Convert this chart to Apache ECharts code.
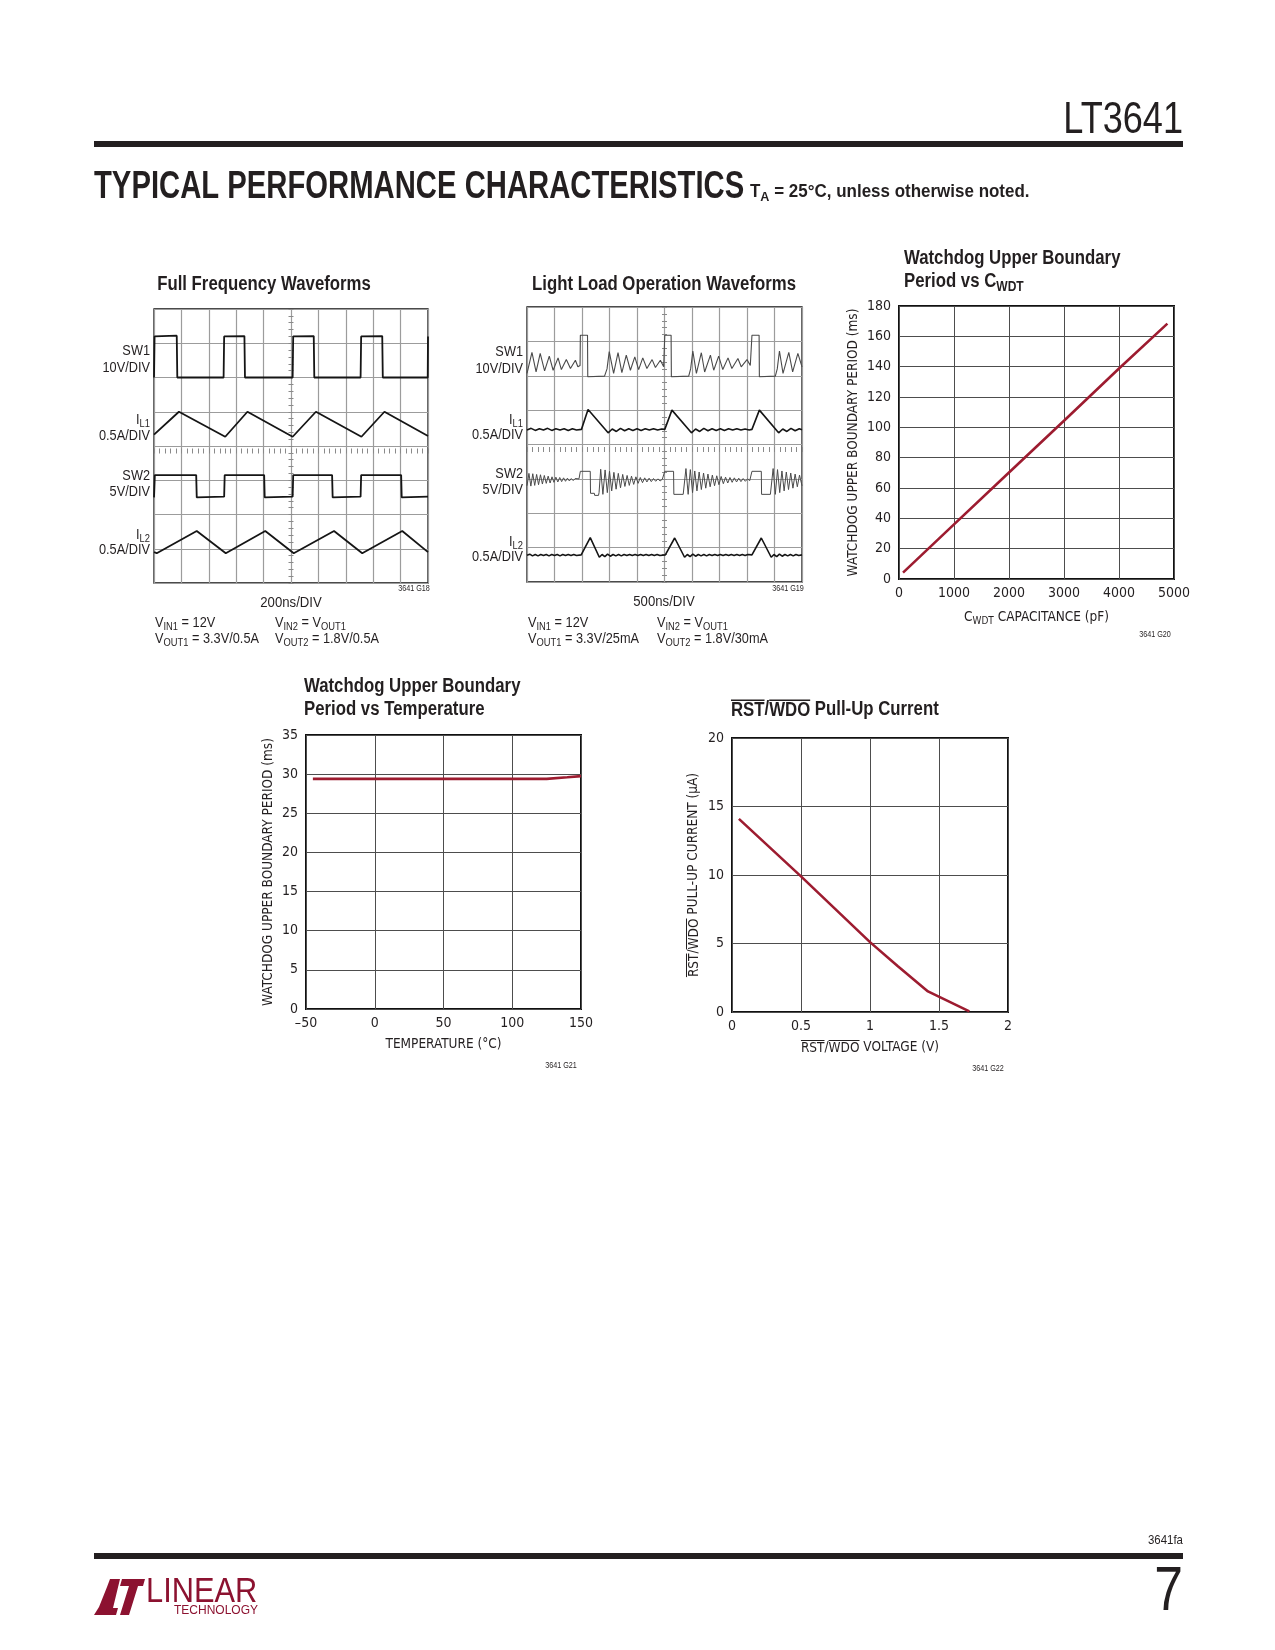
<!DOCTYPE html>
<html><head><meta charset="utf-8">
<script src="https://cdn.jsdelivr.net/npm/echarts@6/dist/echarts.min.js"></script>
<style>html,body{margin:0;padding:0;background:#fff}#c{width:1275px;height:1650px}</style>
</head><body><div id="c"></div>
<script>
// ---------- Scope traces (time in divisions, value in divisions) ----------
// Full Frequency Waveforms (200ns/DIV)
const ffSW1 = [0,6.0, 0.02,7.2, 0.83,7.22, 0.85,6.0, 2.54,6.0, 2.56,7.2, 3.3,7.21, 3.32,6.0, 5.06,6.0, 5.08,7.2, 5.83,7.21, 5.85,6.0, 7.54,6.0, 7.56,7.2, 8.33,7.21, 8.35,6.0, 9.99,6.0, 10,7.2];
const ffIL1 = [0,4.33, 0.91,5.0, 2.6,4.27, 3.41,5.0, 5.06,4.27, 5.91,5.0, 7.57,4.27, 8.41,5.0, 10,4.29];
const ffSW2 = [0,2.5, 0.03,3.15, 1.54,3.15, 1.56,2.5, 2.56,2.52, 2.58,3.15, 4.02,3.15, 4.04,2.5, 5.06,2.52, 5.08,3.15, 6.5,3.15, 6.52,2.5, 7.54,2.52, 7.56,3.15, 9.02,3.15, 9.04,2.5, 10,2.52];
const ffIL2 = [0,0.9, 0.1,0.87, 1.56,1.52, 2.62,0.87, 4.06,1.52, 5.1,0.87, 6.57,1.52, 7.6,0.87, 9.06,1.52, 10,0.9];

// Light Load Operation Waveforms (500ns/DIV)
const llSW1 = [0,6.07, 0.18,6.68, 0.33,6.11, 0.48,6.65, 0.64,6.14, 0.81,6.57, 0.95,6.16, 1.13,6.52, 1.25,6.18, 1.43,6.47, 1.58,6.21, 1.76,6.45, 1.85,6.26, 1.93,6.3,
  1.94,7.18, 2.2,7.18, 2.21,5.97, 2.82,5.99, 2.91,6.2, 2.99,6.7, 3.15,6.07, 3.31,6.67, 3.45,6.09, 3.61,6.6, 3.76,6.16, 3.92,6.55, 4.06,6.18, 4.21,6.52, 4.36,6.21, 4.55,6.47, 4.67,6.24, 4.85,6.45, 4.97,6.26, 5.0,6.3,
  5.01,7.18, 5.24,7.18, 5.25,5.97, 5.88,5.99, 5.95,6.2, 6.03,6.72, 6.16,6.07, 6.34,6.67, 6.46,6.11, 6.67,6.6, 6.79,6.16, 6.97,6.57, 7.12,6.18, 7.31,6.52, 7.45,6.21, 7.67,6.5, 7.79,6.26, 8.0,6.47, 8.12,6.3, 8.17,6.35,
  8.18,7.18, 8.44,7.18, 8.45,5.97, 9.03,5.99, 9.1,6.2, 9.18,6.72, 9.31,6.07, 9.52,6.68, 9.66,6.11, 9.85,6.65, 10,6.26];
const llIL1 = [0,4.42, 0.15,4.47, 0.3,4.41, 0.45,4.46, 0.6,4.42, 0.75,4.47, 0.9,4.41, 1.05,4.46, 1.2,4.42, 1.35,4.46, 1.5,4.41, 1.65,4.46, 1.8,4.42, 1.98,4.44,
  2.22,5.02, 2.95,4.34, 3.1,4.45, 3.25,4.38, 3.4,4.47, 3.55,4.4, 3.7,4.46, 3.85,4.41, 4.0,4.46, 4.15,4.41, 4.3,4.46, 4.45,4.42, 4.6,4.46, 4.75,4.42, 4.9,4.45, 5.01,4.44,
  5.27,5.0, 5.98,4.34, 6.13,4.45, 6.28,4.38, 6.43,4.47, 6.58,4.4, 6.73,4.46, 6.88,4.41, 7.03,4.46, 7.18,4.41, 7.33,4.46, 7.48,4.42, 7.63,4.46, 7.78,4.42, 7.93,4.45, 8.08,4.42, 8.18,4.44,
  8.45,5.0, 9.15,4.34, 9.3,4.45, 9.45,4.38, 9.6,4.47, 9.75,4.4, 9.9,4.46, 10,4.43];
const llSW2 = [0,2.8, 0.07,3.16, 0.14,2.79, 0.21,3.15, 0.28,2.81, 0.35,3.13, 0.42,2.83, 0.49,3.12, 0.56,2.85, 0.63,3.1, 0.7,2.87, 0.77,3.08, 0.84,2.88, 0.91,3.06, 0.98,2.9, 1.05,3.05, 1.12,2.91, 1.19,3.04, 1.26,2.92, 1.33,3.03, 1.4,2.93, 1.47,3.02, 1.54,2.94, 1.61,3.01, 1.68,2.95, 1.75,3.01, 1.82,2.96, 1.89,3.0, 1.93,2.98,
  1.94,3.22, 2.3,3.22, 2.31,2.58, 2.45,2.58, 2.46,2.52, 2.6,2.52,
  2.62,2.6, 2.68,3.28, 2.76,2.55, 2.84,3.26, 2.92,2.6, 3.0,3.22, 3.08,2.65, 3.16,3.19, 3.24,2.7, 3.32,3.16, 3.4,2.74, 3.48,3.13, 3.56,2.78, 3.64,3.1, 3.72,2.81, 3.8,3.08, 3.88,2.84, 3.96,3.06, 4.04,2.87, 4.12,3.04, 4.2,2.89, 4.28,3.03, 4.36,2.91, 4.44,3.02, 4.52,2.92, 4.6,3.01, 4.68,2.93, 4.76,3.0, 4.84,2.94, 4.92,2.99, 4.98,2.96,
  5.0,2.97, 5.01,3.22, 5.33,3.22, 5.34,2.55, 5.68,2.55,
  5.72,2.6, 5.78,3.3, 5.86,2.55, 5.94,3.27, 6.02,2.6, 6.1,3.23, 6.18,2.65, 6.26,3.2, 6.34,2.69, 6.42,3.17, 6.5,2.73, 6.58,3.14, 6.66,2.77, 6.74,3.11, 6.82,2.8, 6.9,3.09, 6.98,2.83, 7.06,3.07, 7.14,2.86, 7.22,3.05, 7.3,2.88, 7.38,3.04, 7.46,2.9, 7.54,3.03, 7.62,2.91, 7.7,3.02, 7.78,2.92, 7.86,3.01, 7.94,2.93, 8.02,3.0, 8.1,2.95, 8.17,2.97,
  8.18,3.22, 8.52,3.22, 8.53,2.55, 8.85,2.55,
  8.89,2.6, 8.95,3.3, 9.03,2.55, 9.11,3.27, 9.19,2.6, 9.27,3.23, 9.35,2.65, 9.43,3.2, 9.51,2.69, 9.59,3.17, 9.67,2.73, 9.75,3.14, 9.83,2.77, 9.91,3.11, 10,2.8];
const llIL2 = [0,0.78, 0.1,0.81, 0.2,0.76, 0.3,0.8, 0.4,0.76, 0.5,0.8, 0.6,0.77, 0.7,0.8, 0.8,0.76, 0.9,0.8, 1.0,0.77, 1.1,0.8, 1.2,0.76, 1.3,0.8, 1.4,0.77, 1.5,0.8, 1.6,0.77, 1.7,0.8, 1.8,0.77, 1.97,0.79,
  2.3,1.29, 2.63,0.72, 2.73,0.8, 2.83,0.74, 2.93,0.81, 3.03,0.75, 3.13,0.8, 3.23,0.76, 3.33,0.8, 3.43,0.76, 3.53,0.8, 3.63,0.77, 3.73,0.8, 3.83,0.77, 3.93,0.8, 4.03,0.77, 4.13,0.8, 4.23,0.77, 4.33,0.8, 4.43,0.77, 4.53,0.8, 4.63,0.77, 4.73,0.8, 4.83,0.77, 5.03,0.79,
  5.37,1.28, 5.73,0.72, 5.83,0.8, 5.93,0.74, 6.03,0.81, 6.13,0.75, 6.23,0.8, 6.33,0.76, 6.43,0.8, 6.53,0.76, 6.63,0.8, 6.73,0.77, 6.83,0.8, 6.93,0.77, 7.03,0.8, 7.13,0.77, 7.23,0.8, 7.33,0.77, 7.43,0.8, 7.53,0.77, 7.63,0.8, 7.73,0.77, 7.83,0.8, 7.93,0.77, 8.03,0.8, 8.18,0.79,
  8.52,1.28, 8.88,0.72, 8.98,0.8, 9.08,0.74, 9.18,0.81, 9.28,0.75, 9.38,0.8, 9.48,0.76, 9.58,0.8, 9.68,0.76, 9.78,0.8, 9.88,0.77, 10,0.79];

// ---------- Measured curves ----------
const cwdtX = [73, 1000, 2000, 3000, 4000, 4880];          // pF
const cwdtY = [4.2, 36.0, 70.2, 104.3, 138.8, 168.4];       // ms
const tempX = [-45, 0, 50, 100, 125, 140, 150];             // °C
const tempY = [29.4, 29.4, 29.4, 29.4, 29.4, 29.6, 29.75];  // ms
const pullX = [0.05, 0.5, 1.0, 1.2, 1.42, 1.72];            // V
const pullY = [14.1, 9.9, 5.1, 3.35, 1.5, 0.05];            // µA

// ---------- Tick values ----------
const scopeXDiv = [0, 10];  const scopeYDiv = [0, 8];
const cwdtXTicks = [0, 1000, 2000, 3000, 4000, 5000];
const cwdtYTicks = [0, 20, 40, 60, 80, 100, 120, 140, 160, 180];
const tempXTicks = [-50, 0, 50, 100, 150];
const tempYTicks = [0, 5, 10, 15, 20, 25, 30, 35];
const pullXTicks = [0, 0.5, 1, 1.5, 2];
const pullYTicks = [0, 5, 10, 15, 20];

// ---------- helpers ----------
const AXFONT = "'DejaVu Sans Condensed','Liberation Sans',sans-serif";
const GFONT = "'Liberation Sans','Arial',sans-serif";
const INK = '#231f20';
const RED = '#9d1c30';
const LOGO = '#8c1230';
const pairs = a => { const r = []; for (let i = 0; i < a.length; i += 2) r.push([a[i], a[i + 1]]); return r; };
const zip = (x, y) => x.map((v, i) => [v, y[i]]);
const OVL = { type: 'linear', x: 0, y: 0, x2: 0, y2: 1, colorStops: [
  { offset: 0, color: INK }, { offset: 0.08, color: INK }, { offset: 0.081, color: 'rgba(255,255,255,0)' }, { offset: 1, color: 'rgba(255,255,255,0)' }] };

function richZ(size, bold, fam, fill) {
  const w = bold ? 'bold ' : '';
  const sub = Math.round(size * 0.72);
  return {
    n: { font: w + size + 'px ' + fam, fill: fill, verticalAlign: 'middle' },
    s: { font: w + sub + 'px ' + fam, fill: fill, verticalAlign: 'middle', padding: [Math.round(size * 0.55), 0, 0, 0] },
    o: { font: w + size + 'px ' + fam, fill: fill, verticalAlign: 'middle', backgroundColor: OVL, padding: [1, 0, 0, 0] }
  };
}
function txt(x, y, text, size, opt) {
  opt = opt || {};
  const bold = !!opt.bold;
  const fam = opt.family || GFONT;
  const fill = opt.fill || INK;
  const sx = opt.sx == null ? (bold ? 0.86 : 0.85) : opt.sx;
  return { type: 'text', x: x, y: y, scaleX: sx, scaleY: 1, silent: true, z: 10, rotation: opt.rotation || 0,
    style: { text: text, font: (bold ? 'bold ' : '') + size + 'px ' + fam, fill: fill,
      align: opt.align || 'left', verticalAlign: 'middle', textAlign: opt.align || 'left', textVerticalAlign: 'middle',
      rich: richZ(size, bold, fam, fill) } };
}
function rect(x, y, w, h, fill) { return { type: 'rect', silent: true, shape: { x, y, width: w, height: h }, style: { fill } }; }
function poly(pts, fill) { return { type: 'polygon', silent: true, shape: { points: pts }, style: { fill } }; }

function richE(size) {
  const sub = Math.round(size * 0.72);
  return {
    n: { fontFamily: AXFONT, fontSize: size, color: INK, verticalAlign: 'middle' },
    s: { fontFamily: AXFONT, fontSize: sub, color: INK, verticalAlign: 'middle', padding: [Math.round(size * 0.55), 0, 0, 0] },
    o: { fontFamily: AXFONT, fontSize: size, color: INK, verticalAlign: 'middle', backgroundColor: OVL, padding: [1, 0, 0, 0] }
  };
}

// scope axes
function scopeAxis(g, range) {
  return { type: 'value', gridIndex: g, min: range[0], max: range[1], interval: 1,
    axisLine: { show: false }, axisTick: { show: false }, axisLabel: { show: false },
    splitLine: { show: true, lineStyle: { color: '#9c9c9c', width: 1.2 } } };
}
function scopeTickAxis(g, range, pos, half) {
  return { type: 'value', gridIndex: g, min: range[0], max: range[1], interval: 0.2, position: pos, offset: -(half + 2.5),
    axisLine: { show: false }, axisTick: { show: true, length: 5, lineStyle: { color: '#8a8a8a', width: 1 } },
    axisLabel: { show: false }, splitLine: { show: false } };
}
function dataAxis(g, ticks, name, gap, isY, fmt) {
  const a = { type: 'value', gridIndex: g, min: ticks[0], max: ticks[ticks.length - 1], interval: ticks[1] - ticks[0],
    axisLine: { show: false }, axisTick: { show: false },
    splitLine: { show: true, lineStyle: { color: '#4d4d4d', width: 1 } },
    axisLabel: { margin: isY ? 8 : 7, fontFamily: AXFONT, fontSize: 14, color: INK, formatter: fmt || (v => String(v)) },
    name: name, nameLocation: 'middle', nameGap: gap,
    nameTextStyle: { fontFamily: AXFONT, fontSize: 13.5, color: INK, rich: richE(13.5) } };
  if (isY) a.nameRotate = 90;
  return a;
}
const dash = v => String(v).replace('-', '\u2013');

const grids = [
  { left: 154, top: 309, width: 274, height: 274, show: true, borderColor: '#111', borderWidth: 1.3 },
  { left: 527, top: 307, width: 275, height: 275, show: true, borderColor: '#111', borderWidth: 1.3 },
  { left: 899, top: 306, width: 275, height: 273, show: true, borderColor: '#111', borderWidth: 2 },
  { left: 306, top: 735, width: 275, height: 274, show: true, borderColor: '#111', borderWidth: 2 },
  { left: 732, top: 738, width: 276, height: 274, show: true, borderColor: '#111', borderWidth: 2 }
];

const xAxes = [
  scopeAxis(0, scopeXDiv), scopeTickAxis(0, scopeXDiv, 'bottom', 137),
  scopeAxis(1, scopeXDiv), scopeTickAxis(1, scopeXDiv, 'bottom', 137.5),
  dataAxis(2, cwdtXTicks, '{n|C}{s|WDT}{n| CAPACITANCE (pF)}', 30, false),
  dataAxis(3, tempXTicks, 'TEMPERATURE (°C)', 28, false, dash),
  dataAxis(4, pullXTicks, '{o|RST}{n|/}{o|WDO}{n| VOLTAGE (V)}', 28, false)
];
const yAxes = [
  scopeAxis(0, scopeYDiv), scopeTickAxis(0, scopeYDiv, 'left', 137),
  scopeAxis(1, scopeYDiv), scopeTickAxis(1, scopeYDiv, 'left', 137.5),
  dataAxis(2, cwdtYTicks, 'WATCHDOG UPPER BOUNDARY PERIOD (ms)', 39, true),
  dataAxis(3, tempYTicks, 'WATCHDOG UPPER BOUNDARY PERIOD (ms)', 31, true),
  dataAxis(4, pullYTicks, '{o|RST}{n|/}{o|WDO}{n| PULL-UP CURRENT (μA)}', 31, true)
];

function trace(xi, yi, arr, color, width) {
  return { type: 'line', xAxisIndex: xi, yAxisIndex: yi, data: arr, showSymbol: false, symbol: 'none',
    lineStyle: { color: color, width: width }, silent: true, z: 3 };
}
const series = [
  trace(0, 0, pairs(ffSW1), '#151515', 1.8),
  trace(0, 0, pairs(ffIL1), '#151515', 1.8),
  trace(0, 0, pairs(ffSW2), '#151515', 1.8),
  trace(0, 0, pairs(ffIL2), '#151515', 1.8),
  trace(2, 2, pairs(llSW1), '#4a4a4a', 1.1),
  trace(2, 2, pairs(llIL1), '#151515', 1.6),
  trace(2, 2, pairs(llSW2), '#4a4a4a', 1.0),
  trace(2, 2, pairs(llIL2), '#151515', 1.6),
  trace(4, 4, zip(cwdtX, cwdtY), RED, 2.6),
  trace(5, 5, zip(tempX, tempY), RED, 2.6),
  trace(6, 6, zip(pullX, pullY), RED, 2.6)
];

const graphics = [
  // header
  txt(1183, 121, 'LT3641', 44, { align: 'right', sx: 0.82 }),
  rect(94, 141, 1089, 6, INK),
  txt(94, 188, 'TYPICAL PERFORMANCE CHARACTERISTICS', 38, { bold: true, sx: 0.77 }),
  txt(750, 192, '{n|T}{s|A}{n| = 25°C, unless otherwise noted.}', 17.5, { bold: true, sx: 0.97 }),
  // scope 1
  txt(264, 285, 'Full Frequency Waveforms', 19.5, { bold: true, align: 'center' }),
  txt(150, 351, 'SW1', 15, { align: 'right' }),
  txt(150, 368, '10V/DIV', 15, { align: 'right' }),
  txt(150, 420, '{n|I}{s|L1}', 15, { align: 'right' }),
  txt(150, 436, '0.5A/DIV', 15, { align: 'right' }),
  txt(150, 476, 'SW2', 15, { align: 'right' }),
  txt(150, 492, '5V/DIV', 15, { align: 'right' }),
  txt(150, 535, '{n|I}{s|L2}', 15, { align: 'right' }),
  txt(150, 550, '0.5A/DIV', 15, { align: 'right' }),
  txt(414, 589, '3641 G18', 8.5, { align: 'center' }),
  txt(291, 603, '200ns/DIV', 15.5, { align: 'center' }),
  txt(155, 623, '{n|V}{s|IN1}{n| = 12V}', 15),
  txt(275, 623, '{n|V}{s|IN2}{n| = V}{s|OUT1}', 15),
  txt(155, 639, '{n|V}{s|OUT1}{n| = 3.3V/0.5A}', 15),
  txt(275, 639, '{n|V}{s|OUT2}{n| = 1.8V/0.5A}', 15),
  // scope 2
  txt(664, 285, 'Light Load Operation Waveforms', 19.5, { bold: true, align: 'center' }),
  txt(523, 352, 'SW1', 15, { align: 'right' }),
  txt(523, 369, '10V/DIV', 15, { align: 'right' }),
  txt(523, 420, '{n|I}{s|L1}', 15, { align: 'right' }),
  txt(523, 435, '0.5A/DIV', 15, { align: 'right' }),
  txt(523, 474, 'SW2', 15, { align: 'right' }),
  txt(523, 490, '5V/DIV', 15, { align: 'right' }),
  txt(523, 542, '{n|I}{s|L2}', 15, { align: 'right' }),
  txt(523, 557, '0.5A/DIV', 15, { align: 'right' }),
  txt(788, 589, '3641 G19', 8.5, { align: 'center' }),
  txt(664, 602, '500ns/DIV', 15.5, { align: 'center' }),
  txt(528, 623, '{n|V}{s|IN1}{n| = 12V}', 15),
  txt(657, 623, '{n|V}{s|IN2}{n| = V}{s|OUT1}', 15),
  txt(528, 639, '{n|V}{s|OUT1}{n| = 3.3V/25mA}', 15),
  txt(657, 639, '{n|V}{s|OUT2}{n| = 1.8V/30mA}', 15),
  // chart 3
  txt(904, 259, 'Watchdog Upper Boundary', 19.5, { bold: true }),
  txt(904, 282, '{n|Period vs C}{s|WDT}', 19.5, { bold: true }),
  txt(1155, 635, '3641 G20', 8.5, { align: 'center' }),
  // chart 4
  txt(304, 687, 'Watchdog Upper Boundary', 19.5, { bold: true }),
  txt(304, 710, 'Period vs Temperature', 19.5, { bold: true }),
  txt(561, 1066, '3641 G21', 8.5, { align: 'center' }),
  // chart 5
  txt(731, 710, '{o|RST}{n|/}{o|WDO}{n| Pull-Up Current}', 19.5, { bold: true }),
  txt(988, 1069, '3641 G22', 8.5, { align: 'center' }),
  // footer
  txt(1183, 1540, '3641fa', 13.5, { align: 'right' }),
  rect(94, 1553, 1089, 6, INK),
  txt(1183, 1593, '7', 63, { align: 'right', sx: 0.82 }),
  // logo
  poly([[94,1615],[99,1607],[103,1597],[107,1587],[110,1579],[120,1579],[113,1608],[118,1608],[116,1615]], LOGO),
  poly([[122,1579],[145,1579],[143,1586],[138,1586],[129,1615],[120,1615],[129,1586],[120,1586]], LOGO),
  txt(146, 1592, 'LINEAR', 35, { fill: LOGO, sx: 0.88 }),
  txt(174, 1611, 'TECHNOLOGY', 12, { fill: LOGO, sx: 1 })
];

const chart = echarts.init(document.getElementById('c'), null, { renderer: 'canvas', width: 1275, height: 1650 });
chart.setOption({
  backgroundColor: '#ffffff',
  animation: false,
  grid: grids,
  xAxis: xAxes,
  yAxis: yAxes,
  series: series,
  graphic: { elements: graphics }
});
</script></body></html>
